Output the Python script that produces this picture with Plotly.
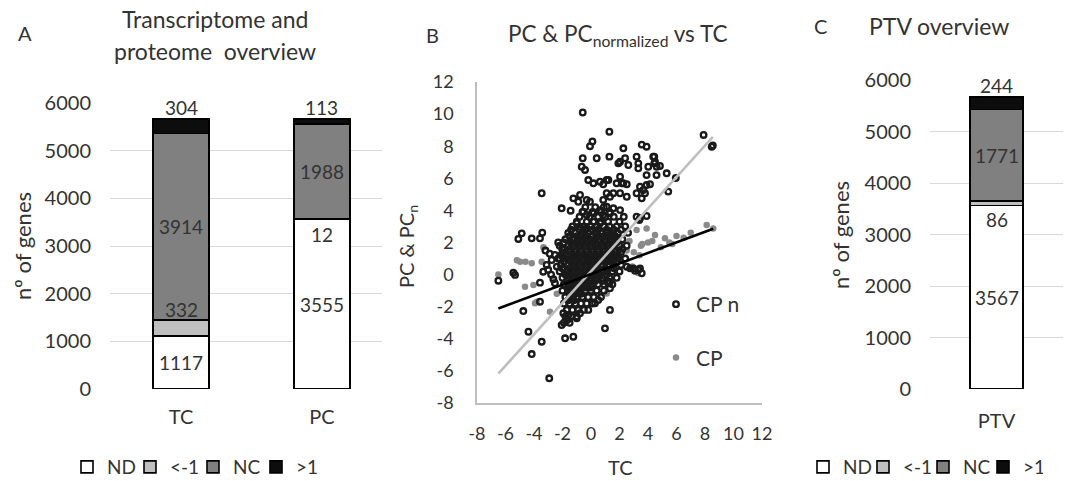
import plotly.graph_objects as go

# ---------------- data ----------------
CATS_A = ["TC", "PC"]
CATS_C = ["PTV"]
SEG_NAMES = ["ND", "<-1", "NC", ">1"]
SEG_COLORS = ["#ffffff", "#bfbfbf", "#808080", "#0d0d0d"]
A_ND = [1117, 3555]
A_LT = [332, 12]
A_NC = [3914, 1988]
A_GT = [304, 113]
C_ND = [3567]
C_LT = [86]
C_NC = [1771]
C_GT = [244]
B_TICKS = [-8, -6, -4, -2, 0, 2, 4, 6, 8, 10, 12]

# scatter: CPn (normalized, open circles)
CPN_TC = [-0.58, 1.29, 7.9, 8.47, 8.55, 0.1, -0.07, 2.27, 3.56, 3.9, -0.58, 0.4, 1.29, 2.04, 2.39, 3.2, 3.32,
          4.44, 4.44, 2.62, -0.65, -0.42, 3.32, 4.02, 4.61, 4.84, 5.31, 5.95, 3.9, 4.6, -0.19, 0.17, 0.63, 1.22,
          2.04, 1.8, 2.27, 3.9, 3.44, 3.67, 5.42, -3.46, 1.1, 1.57, 2.04, 2.51, 1.33, 3.2, 3.56, -1.24, -0.77,
          -0.89, -0.3, -0.07, -2.06, -1.43, -0.54, -0.3, 0.17, 0.63, 1.1, 1.57, 2.04, 1.33, 0.86, 3.2, 3.9, -1.0,
          -0.77, -0.3, 0.17, 0.63, 3.39, -4.86, -5.1, -4.16, -3.58, -3.42, 1.92, 2.16, 2.51, 1.1, 0.86, 4.14, 3.79,
          0.86, 3.44, 4.37, 4.49,
          -6.5, -5.45, -5.33, -3.58, -2.64, -2.53, -4.75, -3.58, -4.39, -3.46, -4.16, -2.93, -1.82, -1.24, -2.06,
          -1.66, -1.0, -1.94, -1.59, -0.77, -0.19, 0.28, 0.51, 0.98, -3.35, -3.11, -2.76, -2.53, 1.33, 2.51, 2.98,
          3.32, 2.74, 3.09, 3.44, 3.56, 1.22, 1.33, 1.33, -3.2, -2.9, -3.0, -2.8, -2.4, -2.2, -2.0, -2.3,
          # dense core
          -0.4, 0.3, 0.9,
          -0.8, -0.1, 0.5, 1.0, 1.6, 2.3,
          -1.3, -0.5, 0.0, 0.4, 0.9, 1.3, 1.8, 2.4,
          -1.6, -1.1, -0.6, -0.2, 0.3, 0.7, 1.1, 1.5, 1.9, 2.6,
          -1.8, -1.3, -0.9, -0.5, -0.1, 0.3, 0.6, 1.0, 1.4, 1.8, 2.2,
          -2.2, -1.6, -1.2, -0.8, -0.4, 0.0, 0.4, 0.8, 1.2, 1.6, 2.0, 2.5,
          -2.0, -1.5, -1.1, -0.7, -0.3, 0.1, 0.5, 0.9, 1.3, 1.7, 2.1,
          -2.3, -1.8, -1.3, -0.9, -0.5, -0.1, 0.3, 0.7, 1.1, 1.5, 1.9, 2.4,
          -2.1, -1.6, -1.2, -0.8, -0.4, 0.0, 0.4, 0.8, 1.2, 1.6, 2.1,
          -2.2, -1.7, -1.3, -0.9, -0.5, -0.1, 0.3, 0.7, 1.1, 1.5, 2.0,
          -2.0, -1.6, -1.2, -0.8, -0.4, 0.0, 0.4, 0.8, 1.3, 1.8,
          -1.9, -1.5, -1.1, -0.7, -0.3, 0.1, 0.5, 0.9, 1.5,
          -2.0, -1.6, -1.2, -0.8, -0.4, 0.0, 0.4, 0.9,
          -1.8, -1.4, -1.0, -0.6, -0.2, 0.2, 0.7,
          -1.9, -1.5, -1.1, -0.7, -0.3, 0.1,
          -1.7, -1.3, -0.9, -0.5,
          -1.8, -1.4, -1.0,
          -1.9, -1.5,
          # staggered core rows
          -0.6, 0.1, 0.7, 1.3,
          -1.0, -0.3, 0.2, 0.7, 1.2, 2.0,
          -1.4, -0.8, -0.4, 0.1, 0.5, 1.1, 1.6, 2.1,
          -1.5, -1.0, -0.7, -0.3, 0.1, 0.5, 0.9, 1.3, 1.7,
          -1.9, -1.4, -1.0, -0.6, -0.2, 0.2, 0.6, 1.0, 1.4, 1.8,
          -2.0, -1.5, -1.1, -0.7, -0.3, 0.1, 0.5, 0.9, 1.3, 1.7, 2.2,
          -2.1, -1.7, -1.3, -0.9, -0.5, -0.1, 0.3, 0.7, 1.1, 1.5, 1.9,
          -1.9, -1.4, -1.0, -0.6, -0.2, 0.2, 0.6, 1.0, 1.4, 1.8,
          -2.0, -1.5, -1.1, -0.7, -0.3, 0.1, 0.5, 1.0, 1.6,
          -1.8, -1.4, -1.0, -0.6, -0.2, 0.2, 0.6, 1.1,
          -1.7, -1.3, -0.9, -0.5, -0.1, 0.3, 0.8,
          -1.6, -1.2, -0.8, -0.4, 0.0,
          -1.5, -1.1, -0.7,
          -1.6, -1.2]
CPN_PC = [10.1, 8.9, 8.7, 7.97, 8.05, 8.3, 8.0, 7.87, 8.1, 7.97, 7.25, 7.25, 7.35, 7.03, 7.25, 7.35, 6.93,
          7.35, 6.93, 6.83, 6.72, 6.52, 6.62, 6.72, 6.72, 6.77, 6.31, 6.02, 6.2, 6.2, 5.89, 5.69, 5.79, 5.89,
          6.1, 5.69, 5.69, 5.58, 5.48, 5.27, 5.17, 5.07, 5.07, 5.07, 5.07, 4.85, 4.85, 5.07, 4.75, 4.75, 4.96,
          4.54, 4.65, 4.54, 4.13, 3.98, 3.92, 3.71, 3.82, 4.02, 4.23, 4.13, 4.02, 3.82, 3.71, 3.61, 3.65, 3.2,
          2.98, 2.88, 3.3, 3.2, 3.4, 2.57, 2.22, 2.26, 2.26, 2.61, 6.93, 5.69, 5.63, 5.89, 5.63, 5.63, 5.07,
          4.65, 3.51, 7.35, 7.03,
          -0.38, 0.12, -0.02, -0.5, -0.29, -0.54, -2.27, -1.69, -3.56, -4.18, -4.95, -6.46, -3.97, -3.87, -3.14,
          -2.83, -2.72, -2.41, -2.52, -2.41, -2.2, -1.79, -1.58, -3.35, 0.18, 0.6, 0.91, 1.22, -2.2, 0.49, 0.39,
          0.29, 0.39, 0.24, 0.39, 0.08, -0.54, -0.85, -0.44, 1.5, 1.3, 0.3, 0.0, 0.5, 1.0, 1.6, 2.0,
          # dense core
          4.2, 4.2, 4.2,
          3.6, 3.6, 3.6, 3.6, 3.6, 3.6,
          3.0, 3.0, 3.0, 3.0, 3.0, 3.0, 3.0, 3.0,
          2.6, 2.6, 2.6, 2.6, 2.6, 2.6, 2.6, 2.6, 2.6, 2.6,
          2.2, 2.2, 2.2, 2.2, 2.2, 2.2, 2.2, 2.2, 2.2, 2.2, 2.2,
          1.8, 1.8, 1.8, 1.8, 1.8, 1.8, 1.8, 1.8, 1.8, 1.8, 1.8, 1.8,
          1.4, 1.4, 1.4, 1.4, 1.4, 1.4, 1.4, 1.4, 1.4, 1.4, 1.4,
          1.0, 1.0, 1.0, 1.0, 1.0, 1.0, 1.0, 1.0, 1.0, 1.0, 1.0, 1.0,
          0.6, 0.6, 0.6, 0.6, 0.6, 0.6, 0.6, 0.6, 0.6, 0.6, 0.6,
          0.2, 0.2, 0.2, 0.2, 0.2, 0.2, 0.2, 0.2, 0.2, 0.2, 0.2,
          -0.2, -0.2, -0.2, -0.2, -0.2, -0.2, -0.2, -0.2, -0.2, -0.2,
          -0.6, -0.6, -0.6, -0.6, -0.6, -0.6, -0.6, -0.6, -0.6,
          -1.0, -1.0, -1.0, -1.0, -1.0, -1.0, -1.0, -1.0,
          -1.4, -1.4, -1.4, -1.4, -1.4, -1.4, -1.4,
          -1.8, -1.8, -1.8, -1.8, -1.8, -1.8,
          -2.2, -2.2, -2.2, -2.2,
          -2.6, -2.6, -2.6,
          -3.0, -3.0,
          # staggered core rows
          3.9, 3.9, 3.9, 3.9,
          3.3, 3.3, 3.3, 3.3, 3.3, 3.3,
          2.8, 2.8, 2.8, 2.8, 2.8, 2.8, 2.8, 2.8,
          2.4, 2.4, 2.4, 2.4, 2.4, 2.4, 2.4, 2.4, 2.4,
          2.0, 2.0, 2.0, 2.0, 2.0, 2.0, 2.0, 2.0, 2.0, 2.0,
          1.6, 1.6, 1.6, 1.6, 1.6, 1.6, 1.6, 1.6, 1.6, 1.6, 1.6,
          1.2, 1.2, 1.2, 1.2, 1.2, 1.2, 1.2, 1.2, 1.2, 1.2, 1.2,
          0.8, 0.8, 0.8, 0.8, 0.8, 0.8, 0.8, 0.8, 0.8, 0.8,
          0.4, 0.4, 0.4, 0.4, 0.4, 0.4, 0.4, 0.4, 0.4,
          0.0, 0.0, 0.0, 0.0, 0.0, 0.0, 0.0, 0.0,
          -0.4, -0.4, -0.4, -0.4, -0.4, -0.4, -0.4,
          -0.8, -0.8, -0.8, -0.8, -0.8,
          -1.2, -1.2, -1.2,
          -1.6, -1.6]

# scatter: CP (filled grey dots)
CP_TC = [-6.5, -5.45, -5.2, -4.98, -4.6, -4.16, -3.46, -3.34, -4.63, -4.04, -3.93, -3.8, -2.88, -2.6, -2.2,
         -1.8, -1.5, -1.0, -0.5, 0.0, 0.5, 1.0, 1.1, 1.5, 2.0, 2.5, 2.9, 3.0, 3.2, 3.3, 3.5, 3.6, 3.9, 4.0,
         4.3, 4.49, 4.9, 5.19, 5.5, 5.7, 6.0, 6.5, 7.0, 8.12, 8.58, 1.6, 2.2, 2.7, 3.4, -2.4, -1.2, 0.8]
CP_PC = [0.0, 0.1, 0.9, 0.8, 0.8, 0.7, 0.8, 1.7, -0.75, -0.65, -1.79, -1.69, -2.31, -0.3, 0.4,
         -0.5, 0.2, 0.5, -0.2, 0.3, 0.6, 0.8, -1.17, 1.2, 1.0, 1.5, 0.5, 1.4, 2.78, 0.1, 1.8, 1.9, 2.88, 2.0,
         2.1, 2.47, 1.7, 2.26, 2.0, 1.9, 2.4, 2.3, 2.6, 3.09, 2.88, 2.0, 1.6, 2.1, 1.2, -1.2, -0.9, 0.1]

# Excel linear trendlines (slope, intercept)
TREND_CPN = (0.98, 0.2)
TREND_CP = (0.33, 0.03)

# ---------------- styling ----------------
FONT = "Lato"
TXT = "#333333"
W, H = 1068, 481


def px_x(p):
    return p / W


def px_y(p):
    return 1 - p / H


fig = go.Figure()

# ---- Panel A & C stacked bars
a_vals = [A_ND, A_LT, A_NC, A_GT]
c_vals = [C_ND, C_LT, C_NC, C_GT]
for name, col, av, cv in zip(SEG_NAMES, SEG_COLORS, a_vals, c_vals):
    fig.add_trace(go.Bar(x=CATS_A, y=av, name=name, width=0.4, xaxis="x", yaxis="y",
                         marker=dict(color=col, line=dict(color="#000000", width=1.6)),
                         legend="legend"))
    fig.add_trace(go.Bar(x=CATS_C, y=cv, name=name, width=0.4, xaxis="x3", yaxis="y3",
                         marker=dict(color=col, line=dict(color="#000000", width=1.6)),
                         legend="legend3"))

# ---- Panel B scatter
fig.add_trace(go.Scatter(x=CP_TC, y=CP_PC, mode="markers", name="CP", xaxis="x2", yaxis="y2",
                         marker=dict(symbol="circle", size=6.5, color="#8a8a8a"),
                         legend="legend2", legendgroup="b", legendrank=2))
fig.add_trace(go.Scatter(x=CPN_TC, y=CPN_PC, mode="markers", name="CP n", xaxis="x2", yaxis="y2",
                         marker=dict(symbol="circle-open", size=5.6, color="#1a1a1a",
                                     line=dict(width=2.3)),
                         legend="legend2", legendgroup="a", legendrank=1))

for (slope, icpt), xs, col in [(TREND_CPN, CPN_TC, "#bfbfbf"), (TREND_CP, CP_TC, "#000000")]:
    x0, x1 = min(xs), max(xs)
    fig.add_trace(go.Scatter(x=[x0, x1], y=[slope * x0 + icpt, slope * x1 + icpt], mode="lines",
                             xaxis="x2", yaxis="y2", showlegend=False,
                             line=dict(color=col, width=2.6)))

# ---- bar labels
ann = []


def bar_labels(cats, vals, xref, yref):
    for i, c in enumerate(cats):
        base = 0
        for k, v in enumerate(vals):
            val = v[i]
            top = base + val
            if k == 3:
                y, ya, ys = top, "bottom", -2
            elif k == 1:
                if val < 150:
                    y, ya, ys = base, "top", -1
                else:
                    y, ya, ys = top, "bottom", -3
            else:
                y, ya, ys = base + val / 2, "middle", 0
            ann.append(dict(x=c, y=y, xref=xref, yref=yref, text=str(val), showarrow=False,
                            yanchor=ya, yshift=ys, font=dict(family=FONT, size=19, color=TXT)))
            base = top


bar_labels(CATS_A, a_vals, "x", "y")
bar_labels(CATS_C, c_vals, "x3", "y3")


def txt(x, y, t, size=21, angle=0, xa="center"):
    ann.append(dict(x=px_x(x), y=px_y(y), xref="paper", yref="paper", text=t, showarrow=False,
                    xanchor=xa, yanchor="middle", textangle=angle,
                    font=dict(family=FONT, size=size, color=TXT)))


txt(25, 33, "A", 20)
txt(215, 19, "Transcriptome and", 23)
txt(215, 51, "proteome  overview", 23)
txt(432, 35, "B", 20)
txt(618, 35, "PC &amp; PC<sub>normalized</sub> vs TC", 22.5)
txt(820, 26, "C", 20)
txt(939, 26, "PTV overview", 23)
txt(22, 246, "nº of genes", 22, -90)
txt(840, 235, "nº of genes", 22, -90)
txt(407, 247, "PC &amp; PC<sub>n</sub>", 20, -90)
txt(620, 467, "TC", 20)

fig.update_layout(annotations=ann)

axis_font = dict(family=FONT, size=20, color=TXT)
b_font = dict(family=FONT, size=18, color=TXT)
b_ticktext = [str(v) for v in B_TICKS]

fig.update_layout(
    width=W, height=H, margin=dict(l=0, r=0, t=0, b=0, autoexpand=False),
    paper_bgcolor="white", plot_bgcolor="white", barmode="stack",
    showlegend=True,
    xaxis=dict(domain=[px_x(110), px_x(382)], range=[-0.504, 1.426], showgrid=False, zeroline=False,
               showline=False, ticks="", tickfont=axis_font, ticklabelstandoff=14, automargin=False),
    yaxis=dict(domain=[px_y(389), px_y(103)], range=[0, 6000], dtick=1000, showgrid=True,
               gridcolor="#d9d9d9", gridwidth=1.3, zeroline=False, showline=False, ticks="",
               tickfont=axis_font, ticklabelstandoff=18, automargin=False),
    xaxis2=dict(domain=[px_x(477), px_x(762)], range=[-8, 12], tickmode="array", tickvals=B_TICKS,
                ticktext=b_ticktext, showgrid=False, zeroline=False,
                showline=True, linecolor="#bfbfbf", linewidth=1.5, ticks="", tickfont=b_font,
                ticklabelstandoff=14, anchor="y2", automargin=False),
    yaxis2=dict(domain=[px_y(403), px_y(82)], range=[-8, 12], tickmode="array", tickvals=B_TICKS,
                ticktext=b_ticktext, showgrid=False, zeroline=False,
                showline=True, linecolor="#bfbfbf", linewidth=1.5, ticks="", tickfont=b_font,
                ticklabelstandoff=18, anchor="x2", automargin=False),
    xaxis3=dict(domain=[px_x(930), px_x(1063)], range=[-0.5, 0.5], showgrid=False, zeroline=False,
                showline=False, ticks="", tickfont=axis_font, ticklabelstandoff=18, anchor="y3",
                automargin=False),
    yaxis3=dict(domain=[px_y(389), px_y(80)], range=[0, 6000], dtick=1000, showgrid=True,
                gridcolor="#d9d9d9", gridwidth=1.3, zeroline=False, showline=False, ticks="",
                tickfont=axis_font, ticklabelstandoff=18, anchor="x3", automargin=False),
    legend=dict(orientation="h", x=px_x(67), y=px_y(467), xanchor="left", yanchor="middle",
                font=dict(family=FONT, size=19, color=TXT), itemwidth=30, traceorder="normal",
                entrywidth=18, entrywidthmode="pixels", bgcolor="rgba(0,0,0,0)"),
    legend3=dict(orientation="h", x=px_x(803), y=px_y(467), xanchor="left", yanchor="middle",
                 font=dict(family=FONT, size=19, color=TXT), itemwidth=30, traceorder="normal",
                 entrywidth=15, entrywidthmode="pixels", bgcolor="rgba(0,0,0,0)"),
    legend2=dict(orientation="v", x=px_x(656), y=px_y(284), xanchor="left", yanchor="top",
                 font=dict(family=FONT, size=21, color=TXT), traceorder="grouped", tracegroupgap=23,
                 itemwidth=30, bgcolor="rgba(0,0,0,0)"),
)

fig.write_html("out.html", config={"displayModeBar": False},
               post_script="document.body.style.margin='0px';")
